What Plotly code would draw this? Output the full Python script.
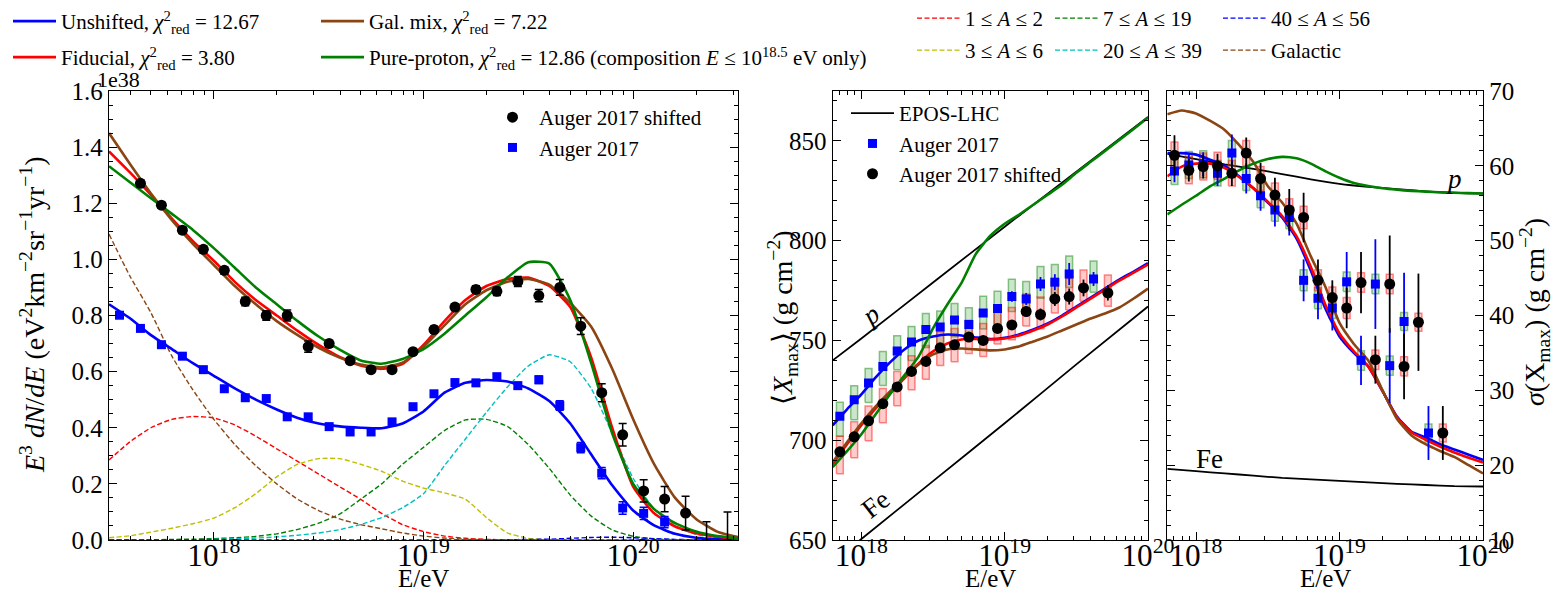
import numpy as np
import plotly.graph_objects as go

# ---------------- DATA ----------------
# Left panel: energy spectrum E^3 dN/dE (units of 1e38)
lgE_model = [17.5, 17.6, 17.7, 17.8, 17.9, 18.0, 18.1, 18.2, 18.3, 18.4, 18.5, 18.6, 18.7, 18.8, 18.9,
             19.0, 19.1, 19.2, 19.3, 19.4, 19.5, 19.6, 19.7, 19.8, 19.9, 20.0, 20.1, 20.2, 20.3, 20.4, 20.5]
spec_unshifted = [0.84, 0.79, 0.73, 0.68, 0.63, 0.585, 0.54, 0.50, 0.465, 0.435, 0.415, 0.405, 0.40, 0.398, 0.415,
                  0.458, 0.525, 0.56, 0.57, 0.565, 0.54, 0.495, 0.415, 0.305, 0.195, 0.105, 0.052, 0.022, 0.008, 0.003, 0.001]
spec_fiducial = [1.385, 1.31, 1.23, 1.145, 1.065, 0.995, 0.92, 0.855, 0.80, 0.745, 0.695, 0.652, 0.622, 0.61, 0.628,
                 0.695, 0.78, 0.855, 0.905, 0.93, 0.935, 0.905, 0.83, 0.65, 0.40, 0.19, 0.095, 0.048, 0.024, 0.012, 0.005]
spec_galmix = [1.45, 1.34, 1.235, 1.14, 1.055, 0.98, 0.905, 0.84, 0.78, 0.73, 0.685, 0.65, 0.625, 0.615, 0.632,
               0.688, 0.765, 0.84, 0.89, 0.92, 0.93, 0.91, 0.845, 0.76, 0.61, 0.43, 0.27, 0.15, 0.075, 0.03, 0.01]
spec_proton = [1.332, 1.275, 1.218, 1.162, 1.105, 1.04, 0.97, 0.90, 0.84, 0.78, 0.725, 0.678, 0.64, 0.628, 0.645,
               0.68, 0.735, 0.80, 0.865, 0.935, 0.99, 0.985, 0.855, 0.63, 0.38, 0.20, 0.11, 0.06, 0.03, 0.014, 0.006]
comp_A1_2 = [0.285, 0.35, 0.40, 0.43, 0.44, 0.435, 0.41, 0.37, 0.325, 0.28, 0.235, 0.19, 0.145, 0.095, 0.055,
             0.03, 0.014, 0.006, 0.002, 0.001, 0.0, 0.0, 0.0, 0.0, 0.0, 0.0, 0.0, 0.0, 0.0, 0.0, 0.0]
comp_A3_6 = [0.008, 0.015, 0.028, 0.042, 0.058, 0.078, 0.115, 0.165, 0.225, 0.27, 0.29, 0.29, 0.27, 0.245, 0.21,
             0.185, 0.168, 0.145, 0.08, 0.025, 0.006, 0.001, 0.0, 0.0, 0.0, 0.0, 0.0, 0.0, 0.0, 0.0, 0.0]
comp_A7_19 = [0.0, 0.0, 0.001, 0.002, 0.003, 0.005, 0.008, 0.013, 0.022, 0.038, 0.06, 0.092, 0.145, 0.20, 0.27,
              0.33, 0.39, 0.428, 0.43, 0.405, 0.34, 0.255, 0.16, 0.085, 0.036, 0.013, 0.004, 0.001, 0.0, 0.0, 0.0]
comp_A20_39 = [0.0, 0.0, 0.0, 0.0, 0.001, 0.002, 0.004, 0.007, 0.011, 0.017, 0.025, 0.037, 0.055, 0.08, 0.115,
               0.165, 0.265, 0.36, 0.455, 0.545, 0.62, 0.66, 0.635, 0.54, 0.38, 0.22, 0.11, 0.05, 0.02, 0.008, 0.003]
comp_A40_56 = [0.0, 0.0, 0.0, 0.0, 0.0, 0.0, 0.0, 0.0, 0.0, 0.0, 0.0, 0.0, 0.0, 0.0, 0.0,
               0.0, 0.0, 0.0, 0.0, 0.001, 0.002, 0.003, 0.006, 0.009, 0.01, 0.008, 0.005, 0.002, 0.001, 0.0, 0.0]
comp_galactic = [1.09, 0.94, 0.81, 0.655, 0.535, 0.43, 0.34, 0.265, 0.20, 0.145, 0.105, 0.075, 0.055, 0.04, 0.025,
                 0.014, 0.007, 0.003, 0.001, 0.0, 0.0, 0.0, 0.0, 0.0, 0.0, 0.0, 0.0, 0.0, 0.0, 0.0, 0.0]

lgE_spec_blue = [17.55, 17.65, 17.75, 17.85, 17.95, 18.05, 18.15, 18.25, 18.35, 18.45, 18.55, 18.65, 18.75, 18.85,
                 18.95, 19.05, 19.15, 19.25, 19.35, 19.45, 19.55, 19.65, 19.75, 19.85, 19.95, 20.05, 20.15]
spec_blue = [0.801, 0.754, 0.696, 0.655, 0.607, 0.539, 0.507, 0.504, 0.439, 0.439, 0.404, 0.385, 0.385, 0.421,
             0.475, 0.521, 0.561, 0.560, 0.582, 0.550, 0.571, 0.479, 0.329, 0.238, 0.114, 0.095, 0.064]
spec_blue_err = [0.008, 0.007, 0.007, 0.007, 0.008, 0.008, 0.009, 0.01, 0.01, 0.01, 0.008, 0.007, 0.007, 0.007,
                 0.007, 0.008, 0.008, 0.009, 0.01, 0.011, 0.013, 0.017, 0.018, 0.02, 0.022, 0.022, 0.02]
lgE_spec_black = [17.65, 17.75, 17.85, 17.95, 18.05, 18.15, 18.25, 18.35, 18.45, 18.55, 18.65, 18.75, 18.85, 18.95,
                  19.05, 19.15, 19.25, 19.35, 19.45, 19.55, 19.65, 19.75, 19.85, 19.95, 20.05, 20.15, 20.25]
spec_black = [1.271, 1.193, 1.104, 1.036, 0.961, 0.850, 0.800, 0.800, 0.689, 0.700, 0.639, 0.607, 0.607, 0.671,
              0.750, 0.830, 0.893, 0.886, 0.921, 0.871, 0.900, 0.762, 0.525, 0.375, 0.175, 0.146, 0.096]
spec_black_err = [0.012, 0.01, 0.012, 0.012, 0.013, 0.015, 0.017, 0.02, 0.02, 0.012, 0.01, 0.01, 0.01, 0.01,
                  0.012, 0.012, 0.013, 0.015, 0.018, 0.022, 0.028, 0.03, 0.032, 0.04, 0.04, 0.045, 0.06]
lgE_spec_black_ul = [20.35, 20.45]
spec_black_ul = [0.0, 0.0]
spec_black_ul_err = [0.065, 0.10]

# Middle panel: <Xmax>
lgE_x = [17.8, 17.9, 18.0, 18.1, 18.2, 18.3, 18.4, 18.5, 18.6, 18.7, 18.8, 18.9, 19.0, 19.1, 19.2, 19.3,
         19.4, 19.5, 19.6, 19.7, 19.8, 19.9, 20.0]
xmax_unshifted = [707.5, 715.5, 723, 731.5, 739, 745.5, 750, 752, 753, 752.5, 751.5, 750.7, 751.3, 753, 755.5,
                  758.5, 762.5, 767, 771.5, 776, 780.5, 784.5, 788.7]
xmax_fiducial = [688, 698, 707.5, 716, 723.5, 731, 738.5, 744.5, 748.5, 750.5, 750.7, 750.5, 751, 752.5, 755,
                 758, 762, 766.5, 771, 775.5, 780, 784, 788]
xmax_galmix = [689, 699, 708.5, 717, 724.5, 731.5, 738, 743, 745.5, 746, 745.5, 745, 745.5, 747, 749.5, 752,
               755, 758, 761, 763.5, 766.5, 771, 776]
xmax_proton = [686.5, 694.5, 703, 713, 723, 732.5, 742, 756, 768, 779, 793.5, 802.5, 808.5, 813, 818, 823,
               828, 834, 839.5, 845, 850.5, 856, 861.7]
lgE_epos = [17.8, 18.0, 18.5, 19.0, 19.5, 20.0]
xmax_epos_p = [740, 751, 779, 807, 834.5, 862]
xmax_epos_fe = [638.5, 650.5, 679.5, 708.5, 738, 767]

lgE_comp_blue = [17.85, 17.95, 18.05, 18.15, 18.25, 18.35, 18.45, 18.55, 18.65, 18.75, 18.85, 18.95,
                 19.05, 19.15, 19.25, 19.35, 19.45, 19.62]
xmax_blue = [712, 720.3, 728.7, 737, 744.7, 749.2, 755.5, 756.7, 760.3, 758, 763.7, 766, 772, 770.8, 778.3,
             779.2, 783.3, 780.8]
xmax_blue_err = [1, 1, 1, 1, 1, 1, 1.2, 1.3, 1.5, 1.7, 2, 2.2, 2.6, 3, 3.5, 4, 5.5, 3.5]
xmax_blue_sys_up = [7, 7, 7.2, 7.4, 7.6, 7.8, 8, 8, 8.2, 8.4, 8.5, 8.6, 8.7, 8.8, 8.8, 8.9, 9, 9]
xmax_blue_sys_dn = [10, 10, 9.8, 9.6, 9.4, 9.2, 9, 8.8, 8.5, 8.2, 8, 7.8, 7.5, 7.3, 7.1, 7, 6.8, 6.7]
lgE_comp_black = [17.85, 17.95, 18.05, 18.15, 18.25, 18.35, 18.45, 18.55, 18.65, 18.75, 18.85, 18.95,
                  19.05, 19.15, 19.25, 19.35, 19.45, 19.55, 19.72]
xmax_black = [694.2, 701.7, 709.7, 718.3, 726.7, 734.5, 739.5, 746.3, 747.8, 751.7, 750, 756, 757.8, 764.5,
              763, 770.8, 772, 776.3, 773.8]
xmax_black_err = [1, 1, 1, 1, 1, 1, 1, 1.2, 1.3, 1.5, 1.7, 2, 2.2, 2.6, 3, 3.5, 4, 4.2, 3.8]
xmax_black_sys_up = [7.8, 7.5, 7.5, 7.6, 7.7, 7.8, 8, 8, 8.2, 8.4, 8.5, 8.6, 8.7, 8.8, 8.8, 8.9, 9, 9, 9]
xmax_black_sys_dn = [11, 10.5, 10, 9.6, 9.4, 9.2, 9, 8.8, 8.5, 8.2, 8, 7.8, 7.5, 7.3, 7.1, 7, 6.8, 6.7, 6.7]

# Right panel: sigma(Xmax)
sig_unshifted = [61.7, 61.7, 61.5, 60.8, 60.0, 58.6, 57.0, 55.1, 53.1, 50.3, 46.0, 41.0, 37.2, 35.0, 33.2,
                 29.9, 26.5, 24.5, 23.7, 22.8, 22.1, 21.4, 20.7]
sig_fiducial = [58.6, 59.9, 60.3, 60.3, 59.7, 58.5, 57.0, 55.2, 53.3, 50.6, 46.5, 41.5, 37.6, 35.2, 33.2,
                29.9, 26.4, 24.4, 23.4, 22.5, 21.7, 21.0, 20.35]
sig_galmix = [66.9, 67.4, 67.0, 66.0, 64.8, 62.8, 60.5, 57.3, 55.1, 52.3, 47.9, 43.9, 39.0, 36.2, 34.0,
              30.0, 26.2, 24.0, 22.8, 21.9, 21.1, 20.0, 18.9]
sig_proton = [53.5, 54.8, 56.0, 57.3, 58.3, 59.4, 60.3, 60.9, 61.2, 61.0, 60.3, 59.3, 58.4, 57.7, 57.3,
              57.0, 56.8, 56.65, 56.55, 56.45, 56.4, 56.35, 56.3]
lgE_epos_sig = [17.8, 18.0, 18.2, 18.4, 18.6, 18.8, 19.0, 19.2, 19.4, 19.6, 19.8, 20.0]
sig_epos_p = [61.6, 60.9, 60.2, 59.6, 58.9, 58.2, 57.6, 57.2, 56.9, 56.6, 56.4, 56.3]
sig_epos_fe = [19.5, 19.2, 18.9, 18.6, 18.3, 18.1, 17.9, 17.7, 17.5, 17.35, 17.2, 17.15]

sig_blue = [59.3, 60.1, 60.2, 59.0, 61.7, 58.3, 56.0, 54.1, 53.1, 44.7, 42.3, 41.0, 44.5, 34.0, 44.2, 33.3, 39.2, 24.3]
sig_blue_err = [1.5, 1.5, 1.6, 1.7, 2.5, 2.0, 2.0, 2.2, 2.4, 2.8, 2.8, 3.0, 4.0, 3.3, 6.0, 5.0, 6.5, 3.6]
sig_blue_sys = [1.8, 1.8, 1.8, 1.7, 1.7, 1.6, 1.6, 1.5, 1.5, 1.4, 1.4, 1.4, 1.3, 1.3, 1.3, 1.3, 1.2, 1.2]
sig_black = [61.4, 59.4, 59.9, 60.0, 59.0, 61.7, 58.3, 56.1, 54.1, 53.1, 44.7, 42.4, 41.0, 44.4, 34.1, 44.2,
             33.2, 39.1, 24.3]
sig_black_err = [2.7, 1.5, 1.6, 1.6, 1.7, 2.1, 2.1, 2.3, 2.8, 3.3, 2.8, 2.3, 2.7, 4.1, 3.2, 6.5, 4.4, 6.5, 3.6]
sig_black_sys = [1.8, 1.8, 1.8, 1.8, 1.7, 1.7, 1.6, 1.6, 1.5, 1.5, 1.4, 1.4, 1.4, 1.3, 1.3, 1.3, 1.3, 1.2, 1.2]

# ---------------- STYLE ----------------
# The page body has an 8 px margin, so the figure is drawn 16 px smaller and all screen
# positions below are converted with that offset.
SCREEN_W, SCREEN_H, OFF = 1561, 602, 8
W, H = SCREEN_W - 2 * OFF, SCREEN_H - 2 * OFF
FONT = "Liberation Serif"
BLUE, RED, BROWN, GREEN = "#0000ff", "#ff0000", "#8b4513", "#008000"
YEL, CYAN = "#bfbf00", "#00bfbf"
TICK_SIZE, YTITLE_SIZE, XTITLE_SIZE, LEG_SIZE = 25, 28, 25, 21


def E(lg):
    return [10 ** v for v in lg]


def boxes(lg, val, up, dn, hw=0.024):
    xs, ys = [], []
    for l, v, u, d in zip(lg, val, up, dn):
        x0, x1 = 10 ** (l - hw), 10 ** (l + hw)
        xs += [x0, x1, x1, x0, x0, None]
        ys += [v - d, v - d, v + u, v + u, v - d, None]
    return xs, ys


fig = go.Figure()

# ---- Left panel components (two legend rows) ----
comps = [("1 ≤ <i>A</i> ≤ 2", comp_A1_2, RED, "legend3", 80),
         ("3 ≤ <i>A</i> ≤ 6", comp_A3_6, YEL, "legend4", 80),
         ("7 ≤ <i>A</i> ≤ 19", comp_A7_19, GREEN, "legend3", 110),
         ("20 ≤ <i>A</i> ≤ 39", comp_A20_39, CYAN, "legend4", 110),
         ("40 ≤ <i>A</i> ≤ 56", comp_A40_56, BLUE, "legend3", 110),
         ("Galactic", comp_galactic, BROWN, "legend4", 110)]
for name, vals, col, leg, lw in comps:
    fig.add_trace(go.Scatter(x=E(lgE_model), y=vals, mode="lines", name=name,
                             line=dict(color=col, width=1.4, dash="5px,2.5px", shape="spline", smoothing=0.5),
                             legend=leg, legendwidth=lw, xaxis="x", yaxis="y"))

# ---- Left panel models (two legend rows) ----
chi = "<i>χ</i><sup>2</sup><sub>red</sub>"
models = [(f"Unshifted, {chi} = 12.67", spec_unshifted, xmax_unshifted, sig_unshifted, BLUE, "legend", 250),
          (f"Fiducial, {chi} = 3.80", spec_fiducial, xmax_fiducial, sig_fiducial, RED, "legend2", 250),
          (f"Gal. mix, {chi} = 7.22", spec_galmix, xmax_galmix, sig_galmix, BROWN, "legend", 520),
          (f"Pure-proton, {chi} = 12.86 (composition <i>E</i> ≤ 10<sup>18.5</sup> eV only)",
           spec_proton, xmax_proton, sig_proton, GREEN, "legend2", 520)]
for name, sp, xm, sg, col, leg, lw in models:
    fig.add_trace(go.Scatter(x=E(lgE_model), y=sp, mode="lines", name=name,
                             line=dict(color=col, width=2.6, shape="spline", smoothing=0.5),
                             legend=leg, legendwidth=lw, xaxis="x", yaxis="y"))

# ---- Left panel data ----
fig.add_trace(go.Scatter(x=E(lgE_spec_black), y=spec_black, mode="markers", name="Auger 2017 shifted",
                         marker=dict(color="black", size=11, symbol="circle"),
                         error_y=dict(type="data", array=spec_black_err, color="black", thickness=1.5, width=4),
                         legend="legend5", xaxis="x", yaxis="y"))
fig.add_trace(go.Scatter(x=E(lgE_spec_black_ul), y=spec_black_ul, mode="markers", showlegend=False,
                         marker=dict(color="black", size=1, opacity=0),
                         error_y=dict(type="data", symmetric=False, array=spec_black_ul_err, arrayminus=[0, 0],
                                      color="black", thickness=1.5, width=4),
                         xaxis="x", yaxis="y"))
fig.add_trace(go.Scatter(x=E(lgE_spec_blue), y=spec_blue, mode="markers", name="Auger 2017",
                         marker=dict(color=BLUE, size=9, symbol="square"),
                         error_y=dict(type="data", array=spec_blue_err, color=BLUE, thickness=1.5, width=4),
                         legend="legend5", xaxis="x", yaxis="y"))

# ---- Middle and right panels ----
for ax, (lgE_ep, p_line, fe_line) in (("2", (lgE_epos, xmax_epos_p, xmax_epos_fe)),
                                      ("3", (lgE_epos_sig, sig_epos_p, sig_epos_fe))):
    xa, ya = "x" + ax, "y" + ax
    fig.add_trace(go.Scatter(x=E(lgE_ep), y=p_line, mode="lines", name="EPOS-LHC",
                             line=dict(color="black", width=1.8, shape="spline", smoothing=0.5),
                             legend="legend6", showlegend=(ax == "2"), xaxis=xa, yaxis=ya))
    fig.add_trace(go.Scatter(x=E(lgE_ep), y=fe_line, mode="lines", showlegend=False,
                             line=dict(color="black", width=1.8, shape="spline", smoothing=0.5),
                             xaxis=xa, yaxis=ya))
    if ax == "2":
        bx, by = boxes(lgE_comp_blue, xmax_blue, xmax_blue_sys_up, xmax_blue_sys_dn)
        rx, ry = boxes(lgE_comp_black, xmax_black, xmax_black_sys_up, xmax_black_sys_dn)
    else:
        bx, by = boxes(lgE_comp_blue, sig_blue, sig_blue_sys, sig_blue_sys)
        rx, ry = boxes(lgE_comp_black, sig_black, sig_black_sys, sig_black_sys)
    fig.add_trace(go.Scatter(x=bx, y=by, mode="lines", fill="toself", fillcolor="rgba(0,128,0,0.2)",
                             line=dict(color="rgba(0,128,0,0.45)", width=1.5), showlegend=False,
                             hoverinfo="skip", xaxis=xa, yaxis=ya))
    fig.add_trace(go.Scatter(x=rx, y=ry, mode="lines", fill="toself", fillcolor="rgba(255,0,0,0.2)",
                             line=dict(color="rgba(255,0,0,0.45)", width=1.5), showlegend=False,
                             hoverinfo="skip", xaxis=xa, yaxis=ya))
    for name, sp, xm, sg, col, leg, lw in models:
        vals = xm if ax == "2" else sg
        fig.add_trace(go.Scatter(x=E(lgE_x), y=vals, mode="lines", showlegend=False,
                                 line=dict(color=col, width=2.6, shape="spline", smoothing=0.5),
                                 xaxis=xa, yaxis=ya))
    if ax == "2":
        vb, eb, vk, ek = xmax_blue, xmax_blue_err, xmax_black, xmax_black_err
    else:
        vb, eb, vk, ek = sig_blue, sig_blue_err, sig_black, sig_black_err
    fig.add_trace(go.Scatter(x=E(lgE_comp_blue), y=vb, mode="markers", name="Auger 2017",
                             marker=dict(color=BLUE, size=9, symbol="square"),
                             error_y=dict(type="data", array=eb, color=BLUE, thickness=1.8, width=0),
                             legend="legend6", showlegend=(ax == "2"), xaxis=xa, yaxis=ya))
    fig.add_trace(go.Scatter(x=E(lgE_comp_black), y=vk, mode="markers", name="Auger 2017 shifted",
                             marker=dict(color="black", size=11, symbol="circle"),
                             error_y=dict(type="data", array=ek, color="black", thickness=1.8, width=0),
                             legend="legend6", showlegend=(ax == "2"), xaxis=xa, yaxis=ya))

# ---------------- LAYOUT ----------------
def px(s):
    """screen x pixel -> paper fraction"""
    return (s - OFF) / W


def py(s):
    """screen y pixel -> paper fraction"""
    return 1 - (s - OFF) / H


ydom = [py(540), py(91)]
tickfont = dict(family=FONT, size=TICK_SIZE, color="black")
common = dict(showline=True, linecolor="black", linewidth=1.3, mirror="allticks", ticks="inside",
              ticklen=8, tickwidth=1.2, tickcolor="black", showgrid=False, zeroline=False, tickfont=tickfont,
              automargin=False)
xlog = dict(type="log", dtick=1, exponentformat="power", ticklabelstandoff=-11,
            minor=dict(ticks="inside", ticklen=4, tickwidth=1, tickcolor="black", showgrid=False))
legfont = dict(family=FONT, size=LEG_SIZE, color="black")
leg_h = dict(orientation="h", xanchor="left", yanchor="top", bgcolor="rgba(0,0,0,0)", font=legfont,
             itemwidth=43)
leg_v = dict(xanchor="left", yanchor="top", bgcolor="rgba(0,0,0,0)", font=legfont, itemwidth=43)

fig.update_layout(
    width=W, height=H, margin=dict(l=0, r=0, t=0, b=0, autoexpand=False),
    paper_bgcolor="white", plot_bgcolor="white",
    font=dict(family=FONT, size=LEG_SIZE, color="black"),
    xaxis=dict(domain=[px(109), px(738)], range=[17.5, 20.5], anchor="y", **xlog, **common),
    yaxis=dict(domain=ydom, range=[0, 1.6], dtick=0.2, tickformat=".1f", anchor="x",
               minor=dict(ticks="inside", ticklen=4, tickwidth=1, dtick=0.05, tickcolor="black"), **common),
    xaxis2=dict(domain=[px(832.7), px(1148)], range=[17.8, 20.0], anchor="y2", **xlog, **common),
    yaxis2=dict(domain=ydom, range=[650, 875], dtick=50, anchor="x2",
                minor=dict(ticks="inside", ticklen=4, tickwidth=1, dtick=10, tickcolor="black"), **common),
    xaxis3=dict(domain=[px(1167.3), px(1483)], range=[17.8, 20.0], anchor="y3", **xlog, **common),
    yaxis3=dict(domain=ydom, range=[10, 70], dtick=10, anchor="x3", side="right",
                minor=dict(ticks="inside", ticklen=4, tickwidth=1, dtick=2, tickcolor="black"), **common),
    legend=dict(x=0, y=py(1), **leg_h),
    legend2=dict(x=0, y=py(37), **leg_h),
    legend3=dict(x=px(912), y=py(-2), **leg_h),
    legend4=dict(x=px(912), y=py(30), **leg_h),
    legend5=dict(x=px(486), y=py(97), **leg_v),
    legend6=dict(x=px(846), y=py(93), **leg_v),
)

ann = []
center = dict(xanchor="center", yanchor="middle", showarrow=False)
ann.append(dict(text="1e38", x=px(119), y=py(79), xref="paper", yref="paper",
                font=dict(family=FONT, size=22), **center))
ann.append(dict(text="<i>E</i><sup>3</sup> <i>dN</i>/<i>dE</i> (eV<sup>2</sup>km<sup>−2</sup>sr<sup>−1</sup>yr<sup>−1</sup>)",
                x=px(32), y=py(315), xref="paper", yref="paper", textangle=-90,
                font=dict(family=FONT, size=YTITLE_SIZE), **center))
ann.append(dict(text="⟨<i>X</i><sub>max</sub>⟩ (g cm<sup>−2</sup>)", x=px(782), y=py(318),
                xref="paper", yref="paper", textangle=-90, font=dict(family=FONT, size=YTITLE_SIZE), **center))
ann.append(dict(text="<i>σ</i>(X<sub>max</sub>) (g cm<sup>−2</sup>)", x=px(1535), y=py(312),
                xref="paper", yref="paper", textangle=-90, font=dict(family=FONT, size=YTITLE_SIZE), **center))
for xc in (423.5, 990, 1325):
    ann.append(dict(text="E/eV", x=px(xc), y=py(578), xref="paper", yref="paper",
                    font=dict(family=FONT, size=XTITLE_SIZE), **center))
# curve labels (data coordinates; log axes take log10 values for annotations)
ann.append(dict(text="<i>p</i>", x=18.06, y=763, xref="x2", yref="y2", textangle=-37,
                font=dict(family=FONT, size=27), **center))
ann.append(dict(text="Fe", x=18.10, y=668, xref="x2", yref="y2", textangle=-38,
                font=dict(family=FONT, size=27), **center))
ann.append(dict(text="<i>p</i>", x=19.80, y=58.2, xref="x3", yref="y3",
                font=dict(family=FONT, size=27), **center))
ann.append(dict(text="Fe", x=18.095, y=20.8, xref="x3", yref="y3",
                font=dict(family=FONT, size=27), **center))
fig.update_layout(annotations=ann)

fig.write_html("out.html")
